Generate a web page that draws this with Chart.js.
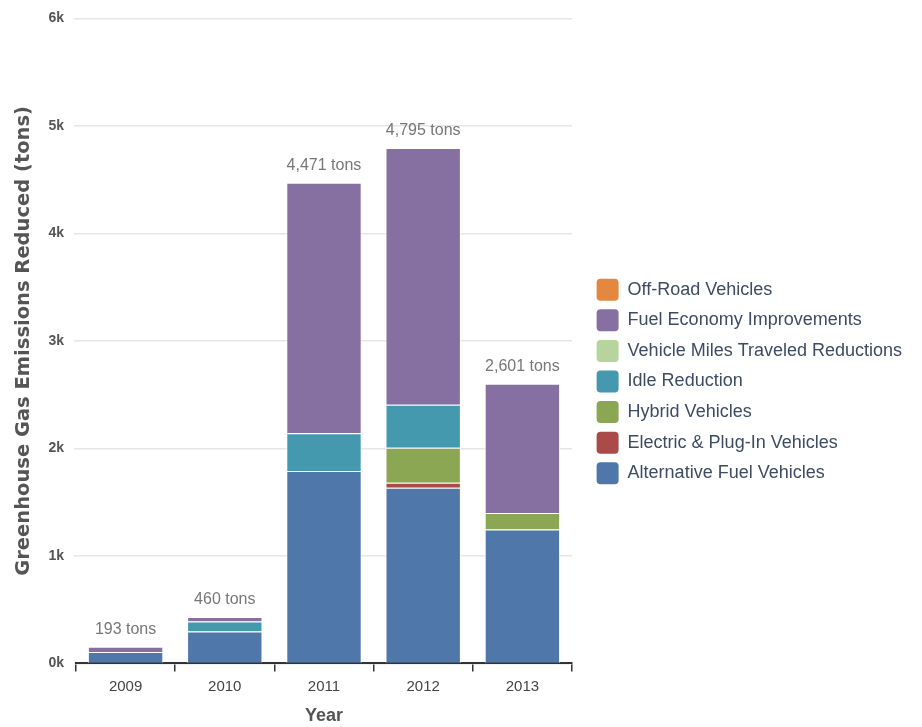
<!DOCTYPE html>
<html lang="en">
  <head>
    <meta charset="UTF-8" />
    <title>GHG reduced</title>
    <script src="https://cdn.jsdelivr.net/npm/chart.js@4"></script>
    <style>
      body { margin: 0; background: #fff; }
      canvas { display: block; }
    </style>
  </head>
  <body>
    <canvas id="myChart" width="922" height="727"></canvas>
  </body>
</html>

<script>
  // data (tons)
  var years = ['2009', '2010', '2011', '2012', '2013'];
  var altFuel = [107, 297, 1790, 1635, 1245];
  var electric = [0, 0, 0, 45, 0];
  var hybrid = [0, 0, 0, 325, 155];
  var idle = [0, 93, 350, 400, 0];
  var vmt = [0, 0, 0, 0, 0];
  var fuelEcon = [48, 42, 2331, 2390, 1201];
  var offRoad = [0, 0, 0, 0, 0];
  var totals = [193, 460, 4471, 4795, 2601]; // as printed above the bars
  var yTicks = [0, 1000, 2000, 3000, 4000, 5000, 6000];

  var font = "'Liberation Sans', Arial, sans-serif";

  function ds(label, data, color) {
    return {
      label: label,
      data: data,
      backgroundColor: color,
      borderColor: '#ffffff',
      borderWidth: 1,
      barPercentage: 0.76,
      categoryPercentage: 1
    };
  }

  // "xxx tons" above each stack, sitting on top of the drawn stack
  var totalLabels = {
    id: 'totalLabels',
    afterDatasetsDraw: function (chart) {
      var ctx = chart.ctx;
      var meta = chart.getDatasetMeta(0);
      ctx.save();
      ctx.font = '16px ' + font;
      ctx.fillStyle = '#777777';
      ctx.textAlign = 'center';
      ctx.textBaseline = 'bottom';
      for (var i = 0; i < totals.length; i++) {
        var top = 0;
        chart.data.datasets.forEach(function (d) { top += d.data[i]; });
        var x = meta.data[i].x;
        var y = chart.scales.y.getPixelForValue(top);
        ctx.fillText(totals[i].toLocaleString('en-US') + ' tons', x, y - 9);
      }
      ctx.restore();
    }
  };

  // legend gets a fixed width and is nudged a bit right/down
  var legendTweak = {
    id: 'legendTweak',
    afterInit: function (chart) {
      var lg = chart.legend;
      if (!lg) return;
      var fit = lg.fit, draw = lg.draw;
      lg.fit = function () {
        fit.apply(this, arguments);
        this.width = 342;
      };
      lg.draw = function () {
        var c = this.ctx;
        c.save();
        c.translate(16, 11);
        draw.apply(this, arguments);
        c.restore();
      };
    }
  };

  var ctx = document.getElementById('myChart').getContext('2d');
  var myChart = new Chart(ctx, {
    type: 'bar',
    data: {
      labels: years,
      datasets: [
        ds('Alternative Fuel Vehicles', altFuel, '#4f77aa'),
        ds('Electric & Plug-In Vehicles', electric, '#aa4b4a'),
        ds('Hybrid Vehicles', hybrid, '#8ca753'),
        ds('Idle Reduction', idle, '#4599ae'),
        ds('Vehicle Miles Traveled Reductions', vmt, '#b7d49c'),
        ds('Fuel Economy Improvements', fuelEcon, '#8670a2'),
        ds('Off-Road Vehicles', offRoad, '#e3883e')
      ]
    },
    plugins: [totalLabels, legendTweak],
    options: {
      responsive: false,
      animation: false,
      layout: { padding: { top: 14, left: 12, right: 8, bottom: 0 } },
      plugins: {
        tooltip: { enabled: false },
        legend: {
          position: 'right',
          reverse: true,
          labels: {
            font: { family: font, size: 18 },
            color: '#3e4b62',
            boxWidth: 22,
            boxHeight: 22,
            padding: 8.6,
            generateLabels: function (chart) {
              return chart.data.datasets.map(function (d, i) {
                return {
                  text: d.label,
                  fillStyle: d.backgroundColor,
                  strokeStyle: d.backgroundColor,
                  lineWidth: 0,
                  borderRadius: 4,
                  datasetIndex: i,
                  hidden: false,
                  fontColor: '#3e4b62'
                };
              });
            },
            useBorderRadius: true,
            borderRadius: 4
          }
        }
      },
      scales: {
        x: {
          stacked: true,
          grid: {
            offset: true,
            drawOnChartArea: false,
            color: '#333333',
            tickLength: 8,
            lineWidth: 1.5
          },
          border: { display: true, color: '#333333', width: 2 },
          ticks: { font: { family: font, size: 15 }, color: '#444444', padding: 6 },
          title: {
            display: true,
            text: 'Year',
            font: { family: font, size: 18, weight: 'bold' },
            color: '#555555',
            padding: { top: 4, bottom: 0 }
          }
        },
        y: {
          stacked: true,
          min: 0,
          max: 6000,
          afterBuildTicks: function (axis) {
            axis.ticks = yTicks.map(function (v) { return { value: v }; });
          },
          grid: { color: '#e6e6e6', lineWidth: 1.5, tickLength: 2 },
          border: { display: false },
          ticks: {
            font: { family: font, size: 14, weight: 'bold' },
            color: '#555555',
            padding: 10,
            callback: function (v) { return (v / 1000) + 'k'; }
          },
          title: {
            display: true,
            text: 'Greenhouse Gas Emissions Reduced (tons)',
            font: { family: "'DejaVu Sans', sans-serif", size: 19.5, weight: 'bold' },
            color: '#555555',
            padding: { top: 0, bottom: 3 }
          }
        }
      }
    }
  });
</script>
